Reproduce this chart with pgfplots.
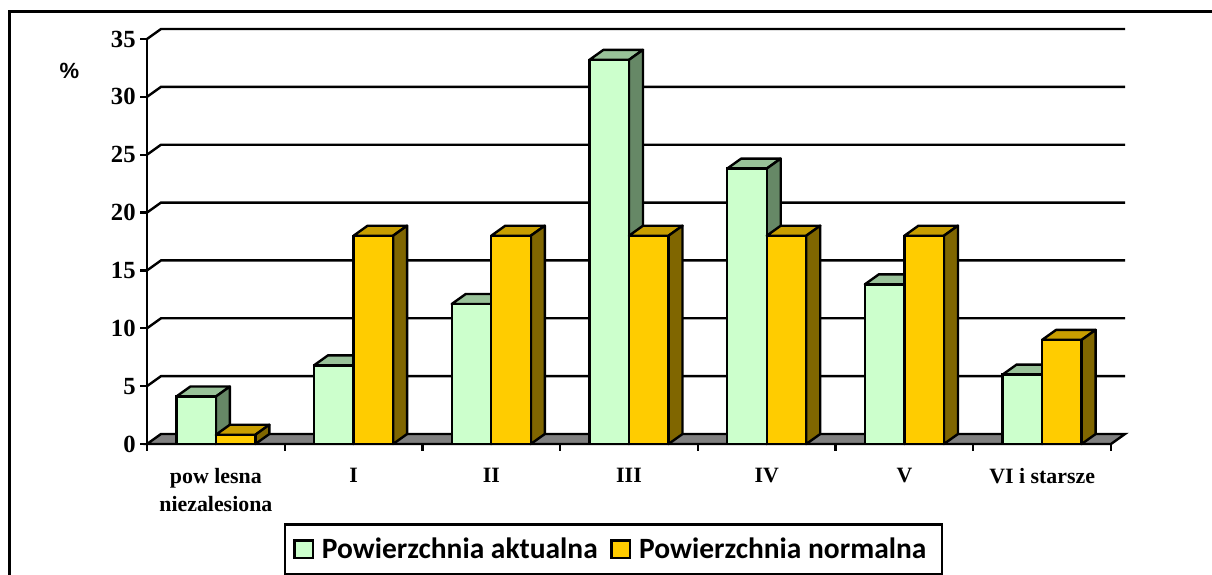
\documentclass[border=0pt]{standalone}
\usepackage{pgfplots}
\pgfplotsset{compat=1.18}
\usepackage{fontspec}
\setmainfont{Liberation Serif}
\newfontfamily\calfont{Carlito}
\newfontfamily\arialfont{Liberation Sans}
\definecolor{afront}{HTML}{CCFFCC}
\definecolor{atop}{HTML}{99C299}
\definecolor{aside}{HTML}{668866}
\definecolor{bfront}{HTML}{FFCC00}
\definecolor{btop}{HTML}{C89E00}
\definecolor{bside}{HTML}{806600}
\newcommand\faces[5]{%
  \pgfmathsetmacro\xa{#1}\pgfmathsetmacro\xb{#2}\pgfmathsetmacro\va{#3}%
  \pgfmathsetmacro\xc{\xa+0.1017}\pgfmathsetmacro\xd{\xb+0.1017}\pgfmathsetmacro\vb{\va+0.865}%
  \addplot[fill=#4,draw=black,line width=1.8pt,line join=round,forget plot] coordinates {(\xa,\va)(\xc,\vb)(\xd,\vb)(\xb,\va)} --cycle;
  \addplot[fill=#5,draw=black,line width=1.8pt,line join=round,forget plot] coordinates {(\xb,0)(\xd,0.865)(\xd,\vb)(\xb,\va)} --cycle;
}
\begin{document}
\begin{tikzpicture}
\path[use as bounding box] (0,0) rectangle (909pt,430.5pt);
\draw[line width=2pt] (6.9pt,-5pt) -- (6.9pt,421.9pt) -- (915pt,421.9pt);
\node[font=\arialfont\bfseries\fontsize{16.5}{18}\selectfont] at (52pt,377pt) {\%};
\begin{axis}[
  at={(110.25pt,97.5pt)}, anchor=south west,
  scale only axis, width=723pt, height=303.75pt,
  xmin=0, xmax=7, ymin=0, ymax=35,
  clip=false,
  axis x line*=bottom, axis y line*=left,
  axis line style={-,line width=1.8pt},
  every tick/.style={black,line width=1.8pt},
  xtick={0.5,1.5,2.5,3.5,4.5,5.5,6.5},
  xticklabels={{pow lesna\\niezalesiona},I,II,III,IV,V,VI i starsze},
  xticklabel style={align=center,font=\bfseries\fontsize{16.4}{21.5}\selectfont,anchor=north,yshift=-9.5pt},
  major x tick style={draw=none},
  minor xtick={0,1,2,3,4,5,6,7},
  minor tick length=5pt,
  tick align=outside, tickpos=left,
  ytick={0,5,10,15,20,25,30,35},
  major tick length=5pt,
  yticklabel style={font=\bfseries\fontsize{18.5}{20}\selectfont,/pgf/number format/assume math mode=true},
  legend columns=2,
  legend cell align=left,
  legend style={at={(0.1421,-0.196)},anchor=north west,draw=black,line width=1.8pt,
    font=\calfont\bfseries\fontsize{22.1}{26}\selectfont,inner xsep=6pt,inner ysep=8pt,
    /tikz/every odd column/.append style={column sep=3.75pt},
    /tikz/every even column/.append style={column sep=7.5pt}},
]
% walls: gridlines and floor
\addplot[fill=gray,draw=black,line width=1.8pt,forget plot] coordinates {(0,0)(0.1017,0.865)(7.1017,0.865)(7,0)} --cycle;
\addplot[black,line width=1.8pt,forget plot] coordinates {(0,5)(0.1017,5.865)(7.1017,5.865)};
\addplot[black,line width=1.8pt,forget plot] coordinates {(0,10)(0.1017,10.865)(7.1017,10.865)};
\addplot[black,line width=1.8pt,forget plot] coordinates {(0,15)(0.1017,15.865)(7.1017,15.865)};
\addplot[black,line width=1.8pt,forget plot] coordinates {(0,20)(0.1017,20.865)(7.1017,20.865)};
\addplot[black,line width=1.8pt,forget plot] coordinates {(0,25)(0.1017,25.865)(7.1017,25.865)};
\addplot[black,line width=1.8pt,forget plot] coordinates {(0,30)(0.1017,30.865)(7.1017,30.865)};
\addplot[black,line width=1.8pt,forget plot] coordinates {(0,35)(0.1017,35.865)(7.1017,35.865)};
% series A
\faces{0.213}{0.5}{4.1}{atop}{aside}
\faces{1.213}{1.5}{6.8}{atop}{aside}
\faces{2.213}{2.5}{12.1}{atop}{aside}
\faces{3.213}{3.5}{33.2}{atop}{aside}
\faces{4.213}{4.5}{23.8}{atop}{aside}
\faces{5.213}{5.5}{13.8}{atop}{aside}
\faces{6.213}{6.5}{6}{atop}{aside}
\addplot[ybar,bar width=29.6pt,bar shift=-14.8pt,fill=afront,draw=black,line width=1.8pt,
  legend image code/.code={\draw[fill=afront,draw=black,line width=1.8pt] (0pt,-6.5pt) rectangle (14pt,6.5pt);}]
  coordinates {(0.5,4.1)(1.5,6.8)(2.5,12.1)(3.5,33.2)(4.5,23.8)(5.5,13.8)(6.5,6)};
\addlegendentry{Powierzchnia aktualna}
% series B
\faces{0.5}{0.787}{0.8}{btop}{bside}
\faces{1.5}{1.787}{18}{btop}{bside}
\faces{2.5}{2.787}{18}{btop}{bside}
\faces{3.5}{3.787}{18}{btop}{bside}
\faces{4.5}{4.787}{18}{btop}{bside}
\faces{5.5}{5.787}{18}{btop}{bside}
\faces{6.5}{6.787}{9}{btop}{bside}
\addplot[ybar,bar width=29.6pt,bar shift=14.8pt,fill=bfront,draw=black,line width=1.8pt,
  legend image code/.code={\draw[fill=bfront,draw=black,line width=1.8pt] (0pt,-6.5pt) rectangle (14pt,6.5pt);}]
  coordinates {(0.5,0.8)(1.5,18)(2.5,18)(3.5,18)(4.5,18)(5.5,18)(6.5,9)};
\addlegendentry{Powierzchnia normalna\rule{3.75pt}{0pt}}
\end{axis}
\end{tikzpicture}
\end{document}
